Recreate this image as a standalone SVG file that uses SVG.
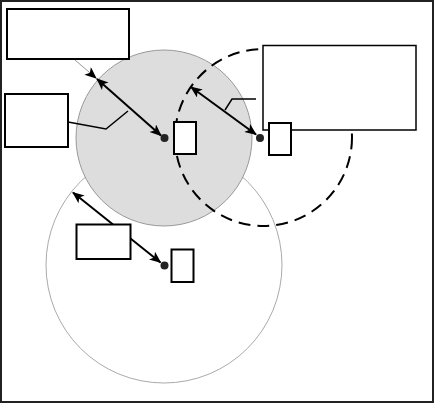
<svg xmlns="http://www.w3.org/2000/svg" width="435" height="404" viewBox="0 0 435 404">
<style>
.box{fill:#fff;stroke:#000;stroke-width:2}
.arr{fill:none;stroke:#000;stroke-width:2;marker-start:url(#ah);marker-end:url(#ah)}
.lead{fill:none;stroke:#000;stroke-width:1.5}
.dot{fill:#222}
</style>
<defs>
<marker id="ah" viewBox="0 0 12 10" refX="11" refY="5" markerWidth="6.5" markerHeight="5" orient="auto-start-reverse" markerUnits="strokeWidth">
<path d="M0,0 L12,5 L0,10 L3,5 z" fill="#000"/>
</marker>
<marker id="ah2" viewBox="0 0 12 10" refX="11" refY="5" markerWidth="12" markerHeight="10" orient="auto" markerUnits="strokeWidth">
<path d="M0,0 L12,5 L0,10 L3,5 z" fill="#000"/>
</marker>
</defs>
<rect x="1" y="1" width="432" height="401" fill="#fff" stroke="#222" stroke-width="2"/>
<g id="range-light">
<circle cx="164" cy="265" r="118" fill="none" stroke="#aaa" stroke-width="1"/>
</g>
<g id="range-gray">
<circle cx="164" cy="138" r="88" fill="#ddd" stroke="#999" stroke-width="1"/>
</g>
<g id="range-dashed">
<circle cx="263.5" cy="137.5" r="88.5" fill="none" stroke="#000" stroke-width="2" stroke-dasharray="12,7"/>
</g>
<g id="connectors">
<line x1="75" y1="60" x2="96" y2="78" stroke="#999" stroke-width="1" marker-end="url(#ah2)"/>
<line class="arr" x1="97" y1="79" x2="161" y2="135.5"/>
<polyline class="lead" points="68,122 106,129 128,111"/>
<line class="arr" x1="191" y1="87" x2="256" y2="134.5"/>
<polyline class="lead" points="256,99 232,99 225,110"/>
<line class="arr" x1="73" y1="192.5" x2="160.5" y2="262.5"/>
</g>
<g id="box-top-left"><rect class="box" x="7" y="9" width="122" height="50"/></g>
<g id="box-left"><rect class="box" x="5" y="94" width="63" height="53"/></g>
<g id="box-right"><rect x="263" y="45.5" width="153" height="84.5" fill="#fff" stroke="#000" stroke-width="1.5"/></g>
<g id="box-bottom"><rect class="box" x="76.5" y="224.5" width="54" height="34.5"/></g>
<g id="node-a">
<circle class="dot" cx="164.5" cy="138" r="4"/>
<rect class="box" x="174" y="122" width="22" height="32"/>
</g>
<g id="node-b">
<circle class="dot" cx="260" cy="138" r="4"/>
<rect class="box" x="269" y="123" width="22" height="32"/>
</g>
<g id="node-c">
<circle class="dot" cx="164.5" cy="265.5" r="4"/>
<rect class="box" x="171.5" y="249.5" width="22" height="32.5"/>
</g>
</svg>
